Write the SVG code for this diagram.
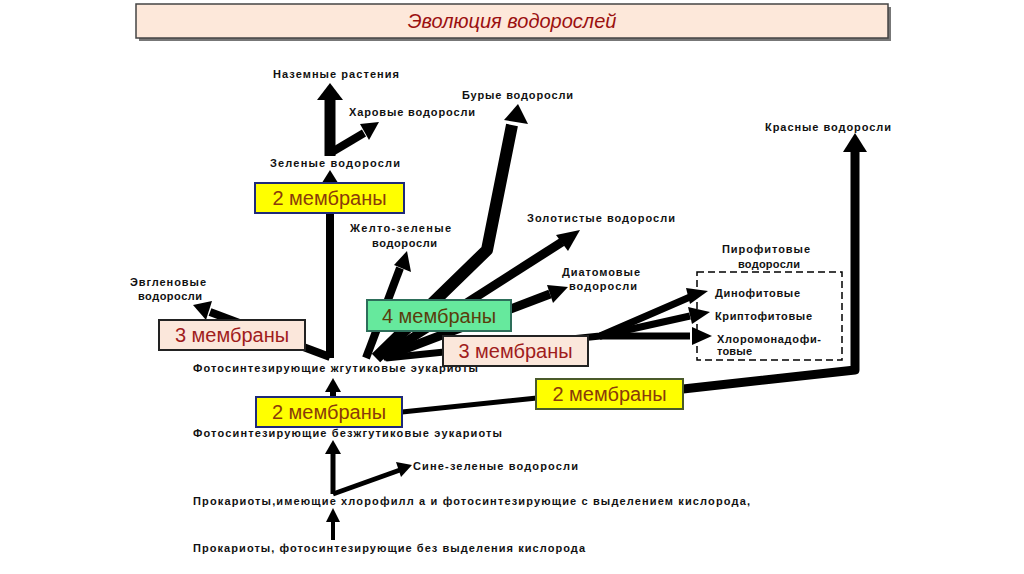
<svg xmlns="http://www.w3.org/2000/svg" width="1024" height="574" viewBox="0 0 1024 574">
<style>
.lbl{font-family:"Liberation Sans",Arial,sans-serif;font-size:11px;font-weight:bold;fill:#111}
.mem{font-family:"Liberation Sans",Arial,sans-serif;font-size:20px}
.ln{stroke:#000;fill:none;stroke-linejoin:round}
.hd{fill:#000}
.yb{fill:#ffff00;stroke:#1f2a7a;stroke-width:2}
.pb{fill:#fbe7db;stroke:#222;stroke-width:2}
.gb{fill:#66e99d;stroke:#2d6e5a;stroke-width:2}
.yt{fill:#8a3b0a}
.pt{fill:#a01c1c}
.gt{fill:#5a3d0b}
</style>
<rect width="1024" height="574" fill="#fff"/>
<g id="title">
<rect x="139" y="7" width="752" height="34" fill="#777"/>
<rect x="136" y="4" width="752" height="34" fill="#fde8da" stroke="#444" stroke-width="1.5"/>
<text x="512" y="28" text-anchor="middle" font-family="Liberation Sans, Arial, sans-serif" font-style="italic" font-size="20" fill="#9b1010">Эволюция водорослей</text>
</g>
<g id="connectors">
<line class="ln" x1="333" y1="540" x2="333" y2="520" stroke-width="4"/>
<path class="hd" d="M333,508 L340,522 L326,522 Z"/>
<line class="ln" x1="333" y1="494" x2="333" y2="452" stroke-width="5"/>
<path class="hd" d="M333,440 L341,454 L325,454 Z"/>
<line class="ln" x1="333" y1="494" x2="400" y2="470" stroke-width="5"/>
<path class="hd" d="M412,465 L396,462 L401,477 Z"/>
<line class="ln" x1="333" y1="398" x2="333" y2="390" stroke-width="6"/>
<path class="hd" d="M333,378 L341,392 L325,392 Z"/>
<line class="ln" x1="402" y1="412" x2="537" y2="398" stroke-width="5"/>
<polyline class="ln" points="683,389 855,370 855,150" stroke-width="9"/>
<path class="hd" d="M855,133 L867,152 L843,152 Z"/>
<line class="ln" x1="330" y1="358" x2="330" y2="184" stroke-width="8"/>
<path class="hd" d="M330,170 L340,186 L320,186 Z"/>
<line class="ln" x1="330" y1="156" x2="330" y2="98" stroke-width="11"/>
<path class="hd" d="M330,83 L343,100 L317,100 Z"/>
<line class="ln" x1="332" y1="152" x2="364" y2="133" stroke-width="8"/>
<path class="hd" d="M379,122 L360,124 L369,140 Z"/>
<line class="ln" x1="330" y1="357" x2="210" y2="312" stroke-width="8"/>
<path class="hd" d="M193,305 L212,301 L206,320 Z"/>
<line class="ln" x1="366" y1="358" x2="400" y2="268" stroke-width="8"/>
<path class="hd" d="M407,251 L411,272 L394,265 Z"/>
<polyline class="ln" points="376,358 487,250 512,125" stroke-width="12"/>
<path class="hd" d="M518,104 L528,124 L504,120 Z"/>
<line class="ln" x1="382" y1="357" x2="562" y2="242" stroke-width="9"/>
<path class="hd" d="M580,230 L568,251 L556,235 Z"/>
<line class="ln" x1="384" y1="357" x2="550" y2="294" stroke-width="9"/>
<path class="hd" d="M568,287 L553,303 L547,285 Z"/>
<polyline class="ln" points="386,358 600,336 690,297" stroke-width="7"/>
<polyline class="ln" points="600,336 690,316" stroke-width="7"/>
<polyline class="ln" points="600,336 690,336" stroke-width="7"/>
<path class="hd" d="M708,291 L690,304 L686,288 Z"/>
<path class="hd" d="M710,312 L692,324 L688,307 Z"/>
<path class="hd" d="M712,336 L692,345 L692,327 Z"/>
</g>
<g id="n-land"><text class="lbl" x="273" y="78" textLength="126">Наземные растения</text></g>
<g id="n-chara"><text class="lbl" x="349" y="116" textLength="126">Харовые водоросли</text></g>
<g id="n-green"><text class="lbl" x="270" y="167" textLength="130">Зеленые водоросли</text></g>
<g id="n-brown"><text class="lbl" x="462" y="99" textLength="111">Бурые водоросли</text></g>
<g id="n-red"><text class="lbl" x="765" y="131" textLength="126">Красные водоросли</text></g>
<g id="n-yg"><text class="lbl" x="350" y="232" textLength="101">Желто-зеленые</text><text class="lbl" x="372" y="247" textLength="65">водоросли</text></g>
<g id="n-gold"><text class="lbl" x="527" y="222" textLength="148">Золотистые водоросли</text></g>
<g id="n-eugl"><text class="lbl" x="130" y="286" textLength="76">Эвгленовые</text><text class="lbl" x="138" y="300" textLength="64">водоросли</text></g>
<g id="n-diat"><text class="lbl" x="562" y="276" textLength="78">Диатомовые</text><text class="lbl" x="569" y="290" textLength="68">водоросли</text></g>
<g id="n-pyrr">
<text class="lbl" x="722" y="253" textLength="88">Пирофитовые</text><text class="lbl" x="738" y="268" textLength="62">водоросли</text>
<rect x="697" y="272" width="145" height="88" fill="none" stroke="#000" stroke-width="1.5" stroke-dasharray="7,4"/>
<text class="lbl" x="715" y="297" textLength="85">Динофитовые</text>
<text class="lbl" x="715" y="320" textLength="97">Криптофитовые</text>
<text class="lbl" x="717" y="343" textLength="104">Хлоромонадофи-</text>
<text class="lbl" x="717" y="355" font-size="10" textLength="35">товые</text>
</g>
<g id="n-flag"><text class="lbl" x="193" y="372" textLength="285">Фотосинтезирующие жгутиковые эукариоты</text></g>
<g id="n-nonflag"><text class="lbl" x="193" y="437" textLength="309">Фотосинтезирующие безжгутиковые эукариоты</text></g>
<g id="n-cyano"><text class="lbl" x="413" y="470" textLength="165">Сине-зеленые водоросли</text></g>
<g id="n-prok1"><text class="lbl" x="193" y="505" textLength="557">Прокариоты,имеющие хлорофилл а и фотосинтезирующие с выделением кислорода,</text></g>
<g id="n-prok2"><text class="lbl" x="193" y="552" textLength="392">Прокариоты, фотосинтезирующие без выделения кислорода</text></g>
<g id="m-2top"><rect class="yb" x="255" y="183" width="149" height="30"/><text class="mem yt" x="329.5" y="205" text-anchor="middle">2 мембраны</text></g>
<g id="m-3left"><rect class="pb" x="159" y="320" width="146" height="30"/><text class="mem pt" x="232" y="342" text-anchor="middle">3 мембраны</text></g>
<g id="m-4"><rect class="gb" x="367" y="300" width="144" height="31"/><text class="mem gt" x="439" y="323" text-anchor="middle">4 мембраны</text></g>
<g id="m-3right"><rect class="pb" x="443" y="336" width="145" height="30"/><text class="mem pt" x="515.5" y="358" text-anchor="middle">3 мембраны</text></g>
<g id="m-2low"><rect class="yb" x="256" y="397" width="146" height="30"/><text class="mem yt" x="329" y="419" text-anchor="middle">2 мембраны</text></g>
<g id="m-2right"><rect fill="#ffff00" stroke="#4a5a2a" stroke-width="2" x="536" y="379" width="147" height="30"/><text class="mem yt" x="609.5" y="401" text-anchor="middle">2 мембраны</text></g>
</svg>
